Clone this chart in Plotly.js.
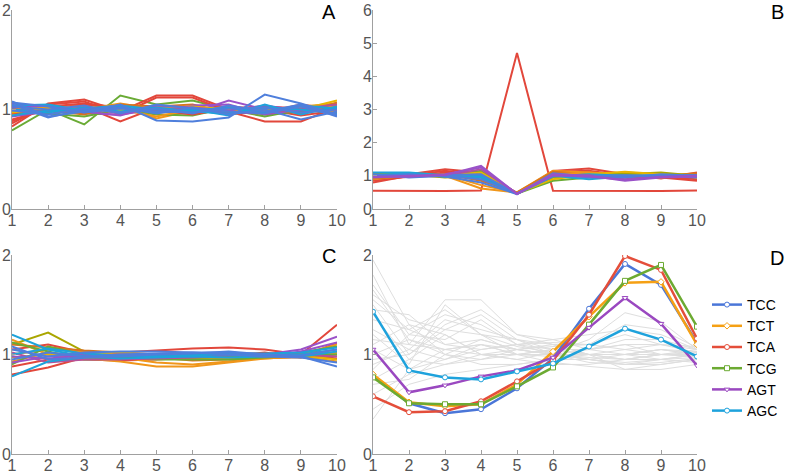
<!DOCTYPE html>
<html>
<head>
<meta charset="utf-8">
<script src="https://cdn.plot.ly/plotly-3.0.1.min.js"></script>
<style>
  body { margin: 0; background: #fff; }
  #myGraph { width: 787px; height: 474px; }
</style>
</head>
<body>
<div id="myGraph"></div>
<script>
"use strict";

// positions along the sequence
var positions = [1, 2, 3, 4, 5, 6, 7, 8, 9, 10];

// panel A : ratios per codon
var seriesA = [
    [0.79, 1.00, 0.85, 1.14, 1.05, 1.09, 1.00, 0.93, 1.00, 1.02],
    [0.83, 1.06, 1.10, 0.98, 1.14, 1.14, 1.00, 0.97, 1.02, 1.03],
    [0.86, 1.05, 1.08, 0.95, 1.12, 1.12, 0.98, 0.88, 0.88, 1.02],
    [0.90, 1.00, 1.03, 0.88, 1.02, 1.00, 0.96, 0.97, 1.05, 1.00],
    [0.88, 1.03, 1.06, 1.02, 0.97, 0.98, 1.03, 1.00, 0.94, 0.99],
    [0.95, 1.00, 0.97, 1.03, 0.91, 0.99, 1.03, 0.97, 1.03, 1.06],
    [0.98, 1.03, 1.00, 1.06, 1.00, 0.96, 1.00, 0.99, 0.97, 1.04],
    [1.06, 1.02, 0.96, 0.95, 1.00, 0.97, 1.09, 1.00, 0.98, 1.02],
    [0.97, 0.96, 0.93, 1.00, 0.95, 0.94, 1.02, 0.95, 0.98, 1.01],
    [0.96, 1.01, 1.05, 1.01, 0.99, 0.95, 1.01, 1.03, 1.01, 0.97],
    [1.01, 0.99, 0.95, 1.05, 1.03, 1.05, 0.97, 1.01, 0.96, 1.07],
    [0.93, 0.98, 1.00, 1.00, 0.98, 1.04, 1.05, 0.95, 1.00, 0.99],
    [1.00, 1.02, 1.03, 1.00, 0.93, 1.00, 0.95, 1.00, 1.02, 0.98],
    [0.97, 1.01, 0.99, 0.99, 1.02, 1.03, 1.00, 0.99, 1.00, 1.09],
    [1.00, 0.98, 1.02, 0.96, 1.01, 1.01, 0.97, 0.96, 1.01, 1.05],
    [1.02, 1.04, 0.98, 0.94, 1.04, 1.02, 0.99, 1.04, 0.99, 1.00],
    [1.04, 1.05, 0.99, 1.03, 0.97, 1.00, 0.94, 1.05, 0.95, 1.03],
    [1.00, 0.97, 1.02, 0.98, 1.02, 0.98, 0.96, 1.02, 1.00, 0.96],
    [0.94, 0.99, 1.01, 1.04, 1.00, 0.99, 1.02, 0.97, 1.04, 1.01],
    [1.03, 1.00, 1.04, 0.96, 1.05, 1.01, 0.98, 0.96, 1.03, 0.94],
    [1.05, 0.92, 1.00, 1.02, 0.96, 1.02, 0.95, 1.00, 0.90, 0.98],
    [0.99, 0.95, 1.01, 0.97, 1.01, 0.96, 1.04, 0.98, 1.05, 0.93],
    [1.07, 1.03, 0.97, 1.01, 0.98, 0.97, 1.01, 1.02, 0.97, 1.00],
    [1.08, 0.93, 0.98, 1.05, 0.89, 0.88, 0.92, 1.15, 1.06, 0.95]
];
var colorsA = ['green', 'red', 'red', 'red', 'red', 'orange', 'orange', 'purple',
	       'green', 'red', 'darkorange', 'purple', 'orange', 'yellow', 'magenta',
	       'purple', 'cyan', 'cyan', 'cyan', 'blue', 'blue', 'blue', 'blue', 'blue'];

// panel B : ratios per codon (one codon peaks at position 5)
var seriesB = [
    [0.55, 0.54, 0.54, 0.56, 4.70, 0.55, 0.55, 0.53, 0.54, 0.56],
    [0.80, 1.00, 1.15, 1.00, 0.47, 1.15, 1.22, 1.05, 0.95, 0.85],
    [0.85, 0.98, 1.10, 1.05, 0.48, 1.12, 1.15, 1.00, 0.98, 0.90],
    [0.95, 1.05, 1.20, 1.10, 0.49, 1.10, 1.00, 1.05, 0.92, 1.10],
    [0.90, 1.02, 1.00, 0.62, 0.50, 1.15, 1.10, 1.00, 0.95, 1.05],
    [1.00, 1.00, 1.04, 0.72, 0.49, 1.10, 1.08, 0.98, 1.00, 1.02],
    [0.92, 0.98, 1.05, 0.85, 0.50, 1.12, 1.05, 0.95, 1.00, 1.08],
    [1.00, 1.02, 1.00, 0.95, 0.48, 1.05, 1.10, 1.03, 0.98, 0.97],
    [1.05, 1.02, 0.98, 1.15, 0.46, 0.85, 0.95, 1.10, 1.05, 1.00],
    [1.08, 1.05, 0.95, 1.00, 0.46, 0.95, 1.00, 1.05, 1.10, 1.00],
    [0.95, 1.00, 1.02, 1.10, 0.48, 0.90, 1.05, 1.12, 1.05, 0.95],
    [1.10, 1.10, 1.02, 0.95, 0.47, 1.00, 0.90, 0.98, 1.00, 1.02],
    [1.02, 1.08, 0.97, 1.00, 0.46, 0.98, 1.05, 1.00, 1.02, 0.98],
    [1.00, 0.97, 1.00, 1.20, 0.47, 1.00, 1.02, 0.90, 1.00, 1.00],
    [1.00, 1.05, 0.98, 0.80, 0.45, 1.05, 0.95, 0.95, 1.05, 1.00],
    [1.05, 0.95, 1.00, 0.90, 0.46, 1.00, 1.00, 1.00, 1.00, 0.95],
    [0.97, 1.00, 1.03, 1.05, 0.45, 1.08, 0.98, 1.02, 0.97, 1.02],
    [0.98, 0.97, 1.05, 1.25, 0.46, 1.02, 0.98, 0.88, 0.97, 1.00],
    [0.95, 1.00, 1.02, 1.30, 0.45, 1.05, 1.00, 0.85, 0.95, 0.98]
];
var colorsB = ['red', 'red', 'red', 'red', 'orange', 'orange', 'darkorange', 'orange',
	       'green', 'olive', 'yellow', 'cyan', 'cyan', 'magenta', 'blue', 'blue',
	       'blue', 'purple', 'purple'];

// panel C : ratios per codon
var seriesC = [
    [1.10, 1.22, 1.03, 1.00, 0.98, 0.97, 0.96, 0.98, 1.00, 1.02],
    [0.80, 0.87, 0.97, 1.02, 1.04, 1.06, 1.07, 1.05, 1.00, 1.30],
    [1.05, 1.10, 1.02, 1.00, 0.97, 0.96, 0.96, 0.98, 1.00, 0.96],
    [0.88, 0.95, 0.95, 0.94, 0.95, 0.97, 0.99, 1.02, 0.97, 1.12],
    [1.15, 1.00, 0.96, 0.93, 0.88, 0.88, 0.92, 0.96, 0.98, 0.93],
    [1.00, 1.05, 1.03, 0.97, 0.92, 0.90, 0.93, 0.97, 1.00, 1.10],
    [1.10, 1.07, 1.04, 1.02, 0.97, 0.94, 0.95, 0.97, 0.97, 1.00],
    [0.97, 1.00, 1.00, 1.02, 1.00, 0.99, 0.98, 0.97, 0.99, 0.95],
    [0.93, 1.02, 0.98, 0.97, 0.96, 0.96, 0.96, 0.96, 0.98, 1.02],
    [0.90, 1.08, 1.00, 0.97, 0.95, 0.95, 0.95, 0.97, 0.99, 1.00],
    [1.12, 1.03, 0.95, 0.96, 0.97, 0.97, 0.98, 0.99, 1.02, 1.08],
    [1.02, 0.92, 0.95, 0.95, 0.96, 0.97, 0.99, 1.00, 1.00, 0.98],
    [0.98, 0.96, 0.99, 1.00, 1.00, 1.01, 1.00, 0.98, 1.03, 1.12],
    [0.92, 0.98, 1.00, 0.99, 0.98, 0.98, 1.00, 1.00, 1.05, 1.18],
    [1.20, 1.05, 0.98, 0.96, 0.97, 0.98, 0.97, 0.98, 1.00, 1.05],
    [0.78, 0.93, 0.97, 0.98, 0.99, 1.00, 1.00, 0.99, 0.98, 1.03],
    [1.00, 1.06, 1.01, 0.99, 0.98, 0.99, 1.01, 1.01, 1.02, 1.07],
    [0.95, 1.02, 0.98, 1.00, 1.01, 1.02, 1.02, 1.00, 0.98, 0.88],
    [1.08, 0.95, 0.97, 0.98, 1.00, 1.01, 1.03, 1.00, 0.99, 1.05],
    [1.05, 0.98, 1.02, 1.03, 1.03, 1.02, 1.00, 0.98, 0.97, 0.92]
];
var colorsC = ['olive', 'red', 'red', 'red', 'orange', 'orange', 'darkorange', 'yellow',
	       'orange', 'green', 'green', 'magenta', 'purple', 'purple', 'cyan', 'cyan',
	       'cyan', 'blue', 'blue', 'blue'];

// panel D : background codons (grey)
var seriesD = [
    [1.95, 1.30, 1.00, 0.95, 1.00, 1.05, 1.00, 1.00, 1.05, 1.00],
    [1.80, 1.10, 1.55, 1.55, 1.20, 1.10, 1.00, 0.95, 1.00, 1.05],
    [1.70, 1.20, 1.40, 1.30, 1.10, 1.05, 1.05, 1.10, 1.00, 0.98],
    [1.60, 1.35, 1.25, 1.20, 1.15, 1.10, 1.10, 1.20, 1.10, 1.02],
    [1.50, 1.00, 1.30, 1.45, 1.20, 1.15, 1.05, 1.00, 0.95, 0.97],
    [1.35, 1.25, 1.10, 1.15, 1.05, 1.00, 0.95, 0.90, 0.90, 0.95],
    [1.20, 0.90, 1.50, 1.20, 1.00, 0.98, 1.00, 1.05, 1.10, 1.05],
    [1.10, 1.30, 1.20, 1.00, 0.95, 1.02, 1.15, 1.42, 1.33, 1.05],
    [1.00, 1.15, 1.00, 0.90, 0.90, 0.95, 1.00, 1.00, 1.00, 1.00],
    [0.90, 1.05, 0.95, 1.10, 1.00, 1.05, 1.05, 1.10, 1.10, 1.08],
    [0.75, 0.95, 1.20, 1.00, 0.95, 0.90, 0.90, 0.95, 1.00, 0.98],
    [0.60, 0.80, 0.90, 1.00, 1.05, 1.00, 1.00, 0.95, 0.95, 0.92],
    [0.45, 0.70, 0.80, 0.85, 0.90, 0.95, 0.95, 1.00, 1.05, 1.00],
    [0.35, 0.85, 1.05, 1.10, 1.00, 0.92, 0.88, 0.85, 0.90, 0.95],
    [1.45, 1.40, 1.10, 1.05, 1.10, 1.12, 1.10, 1.05, 1.00, 1.00],
    [1.25, 1.05, 1.35, 1.25, 1.15, 1.05, 1.00, 1.00, 1.05, 1.03],
    [1.05, 0.85, 0.95, 1.05, 1.10, 1.15, 1.20, 1.25, 1.20, 1.05],
    [0.85, 1.20, 1.15, 1.35, 1.10, 1.00, 0.95, 0.90, 0.92, 0.96],
    [1.65, 1.15, 1.05, 1.00, 1.00, 1.00, 1.05, 1.15, 1.15, 1.05],
    [1.40, 0.95, 0.90, 0.95, 1.05, 1.10, 1.00, 0.85, 0.85, 0.90],
    [0.95, 1.00, 1.25, 1.40, 1.15, 1.00, 0.92, 0.90, 0.95, 1.00],
    [1.15, 1.10, 1.05, 1.10, 1.05, 1.08, 1.10, 1.30, 1.25, 1.07],
    [0.70, 0.75, 1.00, 1.15, 1.05, 1.00, 0.97, 0.95, 1.00, 1.02],
    [1.55, 1.25, 1.45, 1.20, 1.08, 1.02, 0.95, 0.92, 0.95, 1.00]
];

// panel D : highlighted codons
var codons = ['TCC', 'TCT', 'TCA', 'TCG', 'AGT', 'AGC'];
var valTCC = [0.79, 0.51, 0.41, 0.45, 0.66, 0.96, 1.46, 1.91, 1.70, 1.12];
var valTCT = [0.80, 0.52, 0.48, 0.50, 0.70, 1.03, 1.38, 1.72, 1.73, 1.10];
var valTCA = [0.58, 0.42, 0.43, 0.53, 0.73, 0.94, 1.40, 1.99, 1.85, 1.16];
var valTCG = [0.77, 0.51, 0.50, 0.50, 0.68, 0.87, 1.30, 1.74, 1.90, 1.28];
var valAGT = [1.05, 0.62, 0.69, 0.78, 0.84, 0.97, 1.27, 1.57, 1.31, 0.89];
var valAGC = [1.43, 0.84, 0.77, 0.75, 0.83, 0.91, 1.08, 1.26, 1.15, 0.98];

// palette
var palette = {
    blue: '#4f7fdc', orange: '#f0961a', green: '#6aab35', red: '#e2473b',
    purple: '#9a52c8', cyan: '#1da3da', darkorange: '#d8731f', yellow: '#e8b400',
    magenta: '#b4529a', olive: '#aaa600'
};
var codonColors = ['#4a76d8', '#f5a014', '#e44e3a', '#6caa32', '#9a48c0', '#1ea2dc'];
var codonSymbols = ['circle', 'diamond', 'circle', 'square', 'triangle-down', 'circle'];

plotFigure('myGraph');

// build the four panels
function plotFigure(id) {
    var data = [];
    var W = 787, H = 474;
    var font = 'Liberation Sans, Arial, sans-serif';

    // bundle of coloured lines
    function addBundle(series, colors, xa, ya) {
	for (var i = 0; i < series.length; i++) {
	    data.push({
		x: positions, y: series[i], xaxis: xa, yaxis: ya,
		mode: 'lines', showlegend: false, hoverinfo: 'skip',
		line: {color: palette[colors[i]], width: 2}
	    });
	}
    }
    addBundle(seriesA, colorsA, 'x', 'y');
    addBundle(seriesB, colorsB, 'x2', 'y2');
    addBundle(seriesC, colorsC, 'x3', 'y3');

    // grey background in D
    for (var i = 0; i < seriesD.length; i++) {
	data.push({
	    x: positions, y: seriesD[i], xaxis: 'x4', yaxis: 'y4',
	    mode: 'lines', showlegend: false, hoverinfo: 'skip',
	    line: {color: '#dedede', width: 1}
	});
    }

    // highlighted codons
    var vals = [valTCC, valTCT, valTCA, valTCG, valAGT, valAGC];
    for (var k = 0; k < codons.length; k++) {
	data.push({
	    x: positions, y: vals[k], xaxis: 'x4', yaxis: 'y4',
	    mode: 'lines+markers', name: codons[k],
	    line: {color: codonColors[k], width: 2.5},
	    marker: {symbol: codonSymbols[k], size: 5, color: '#ffffff',
		     line: {color: codonColors[k], width: 1}}
	});
    }

    // axis helpers (pixel boxes converted to paper fractions)
    function xAxis(x0, x1, anchor) {
	return {
	    domain: [x0 / W, x1 / W], anchor: anchor, range: [1, 10],
	    tickmode: 'array', tickvals: positions, ticks: 'inside', ticklen: 4,
	    tickcolor: '#a0a0a0', showline: true, linecolor: '#a0a0a0', linewidth: 1,
	    showgrid: false, zeroline: false, ticklabelstandoff: -3,
	    tickfont: {family: font, size: 16, color: '#555555'}
	};
    }
    function yAxis(y0, y1, anchor, ymax) {
	return {
	    domain: [(H - y1) / H, (H - y0) / H], anchor: anchor, range: [0, ymax],
	    dtick: 1, ticks: 'inside', ticklen: 4,
	    tickcolor: '#a0a0a0', showline: true, linecolor: '#a0a0a0', linewidth: 1,
	    showgrid: false, zeroline: false, ticklabelstandoff: -3,
	    tickfont: {family: font, size: 16, color: '#555555'}
	};
    }

    // panel letters
    function letter(txt, x, y) {
	return {
	    text: txt, xref: 'paper', yref: 'paper', x: x / W, y: 1 - y / H,
	    xanchor: 'right', yanchor: 'middle', showarrow: false,
	    font: {family: font, size: 20, color: '#000000'}
	};
    }

    var layout = {
	width: W, height: H, autosize: false,
	margin: {l: 0, r: 0, t: 0, b: 0},
	paper_bgcolor: '#ffffff', plot_bgcolor: '#ffffff',
	xaxis: xAxis(12, 337, 'y'), yaxis: yAxis(10, 209, 'x', 2),
	xaxis2: xAxis(373, 697, 'y2'), yaxis2: yAxis(10, 209, 'x2', 6),
	xaxis3: xAxis(12, 337, 'y3'), yaxis3: yAxis(255, 454, 'x3', 2),
	xaxis4: xAxis(373, 697, 'y4'), yaxis4: yAxis(255, 454, 'x4', 2),
	annotations: [letter('A', 338, 12), letter('B', 786, 12),
		      letter('C', 338, 256), letter('D', 786, 258)],
	legend: {
	    x: 707 / W, y: 1 - 289 / H, xanchor: 'left', yanchor: 'top',
	    bgcolor: 'rgba(0,0,0,0)', borderwidth: 0,
	    font: {family: font, size: 14, color: '#000000'}
	},
	showlegend: true
    };

    Plotly.newPlot(id, data, layout, {staticPlot: true});
}
</script>
</body>
</html>
